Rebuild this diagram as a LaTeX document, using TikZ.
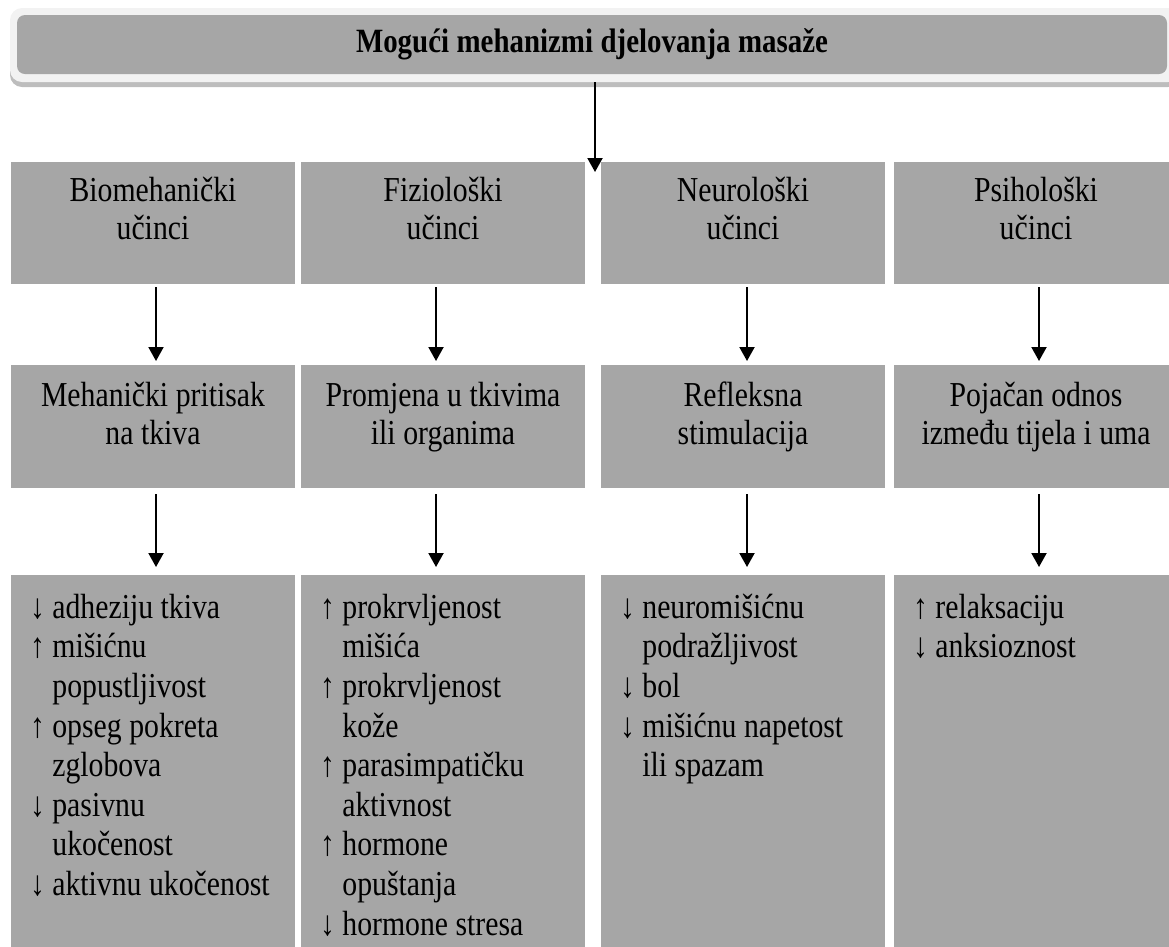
\documentclass[tikz,border=0pt]{standalone}
\usepackage{fontspec}
\setmainfont[FakeStretch=0.85]{Liberation Serif}
\usetikzlibrary{arrows.meta}
\usepackage{xcolor}

\definecolor{okvir}{HTML}{A6A6A6}
\definecolor{rub}{HTML}{F2F2F2}
\definecolor{sjena}{HTML}{BDBDBD}

\newcommand{\razmak}{\spaceskip=7.5pt plus 3pt minus 2pt\relax}
\newcommand{\uvuci}{\phantom{↑}\ }

\begin{document}
\begin{tikzpicture}[x=1pt, y=-1pt,
        font=\fontsize{35}{38.5}\selectfont\razmak,
        okvirbox/.style={fill=okvir, inner sep=0pt, minimum width=284pt, anchor=north, execute at begin node={\razmak}},
        ucinak/.style={okvirbox, align=flush center, text width=284pt, text height=39pt, text depth=83pt},
        mehanizam/.style={okvirbox, align=flush center, text width=284pt, text height=41pt, text depth=82pt},
        popis/.style={okvirbox, align=flush left, inner xsep=19pt, text width=246pt, text height=43pt, text depth=340pt, font=\fontsize{35}{39.6}\selectfont\razmak},
        strelica/.style={line width=2pt, -{Triangle[width=15pt, length=14pt]}}]
        \useasboundingbox (0,0) rectangle (1169,946);

        % Naslov
        \fill[sjena, rounded corners=12pt] (10,13) rectangle (1180,87);
        \fill[rub, rounded corners=12pt] (10,8) rectangle (1180,82);
        \node[fill=okvir, rounded corners=8pt, minimum width=1150pt, minimum height=59pt, font=\fontsize{34}{40}\selectfont\bfseries\razmak] (naslov) at (592,44.5) {Mogući mehanizmi djelovanja masaže};

        % Učinci
        \node[ucinak] (u1) at (153,162) {Biomehanički\\učinci};
        \node[ucinak] (u2) at (443,162) {Fiziološki\\učinci};
        \node[ucinak] (u3) at (743,162) {Neurološki\\učinci};
        \node[ucinak] (u4) at (1036,162) {Psihološki\\učinci};

        % Mehanizmi
        \node[mehanizam] (m1) at (153,365) {Mehanički pritisak\\na tkiva};
        \node[mehanizam] (m2) at (443,365) {Promjena u tkivima\\ili organima};
        \node[mehanizam] (m3) at (743,365) {Refleksna\\stimulacija};
        \node[mehanizam] (m4) at (1036,365) {Pojačan odnos\\između tijela i uma};

        % Ishodi
        \node[popis] (e1) at (153,575) {↓ adheziju tkiva\\↑ mišićnu\\\uvuci popustljivost\\↑ opseg pokreta\\\uvuci zglobova\\↓ pasivnu\\\uvuci ukočenost\\\mbox{↓ aktivnu ukočenost}};
        \node[popis] (e2) at (443,575) {↑ prokrvljenost\\\uvuci mišića\\↑ prokrvljenost\\\uvuci kože\\↑ parasimpatičku\\\uvuci aktivnost\\↑ hormone\\\uvuci opuštanja\\\mbox{↓ hormone stresa}};
        \node[popis] (e3) at (743,575) {↓ neuromišićnu\\\uvuci podražljivost\\↓ bol\\\mbox{↓ mišićnu napetost}\\\uvuci ili spazam};
        \node[popis] (e4) at (1036,575) {↑ relaksaciju\\↓ anksioznost};

        % Strelice
        \coordinate (ulaz) at (595,172);
        \draw[strelica, shorten <=8pt] (naslov.south -| ulaz) -- (ulaz);
        \foreach \i/\dx in {1/3,2/-7,3/4,4/3} {
            \draw[strelica, shorten <=3pt, shorten >=4pt] ([xshift=\dx pt]u\i.south) -- ([xshift=\dx pt]m\i.north);
            \draw[strelica, shorten <=6pt, shorten >=8pt] ([xshift=\dx pt]m\i.south) -- ([xshift=\dx pt]e\i.north);
        }
\end{tikzpicture}
\end{document}
